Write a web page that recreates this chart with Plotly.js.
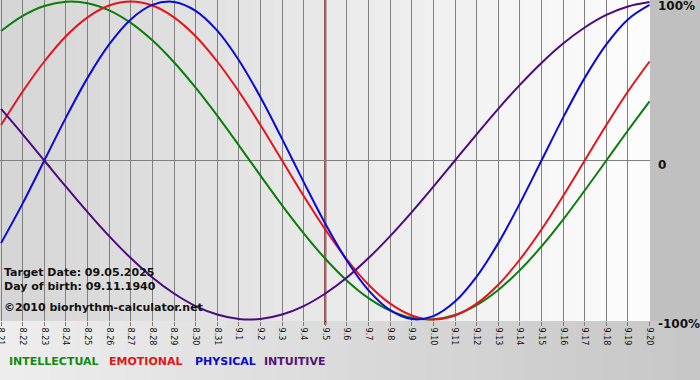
<!DOCTYPE html>
<html>
<head>
<meta charset="utf-8">
<script src="https://cdn.plot.ly/plotly-3.0.1.min.js"></script>
<style>html,body{margin:0;padding:0;background:#fff;}#chart{width:700px;height:380px;}</style>
</head>
<body>
<div id="chart"></div>
<script>
// Day labels (Aug 21 – Sep 20)
const dates = ['8.21','8.22','8.23','8.24','8.25','8.26','8.27','8.28','8.29','8.30','8.31',
  '9.1','9.2','9.3','9.4','9.5','9.6','9.7','9.8','9.9','9.10','9.11','9.12','9.13','9.14',
  '9.15','9.16','9.17','9.18','9.19','9.20'];

// Cycle values (-1 .. 1)
const intellectual = [0.815,0.910,0.972,0.999,0.990,0.945,0.866,0.756,0.618,0.458,0.282,0.095,-0.095,-0.282,-0.458,-0.618,
  -0.756,-0.866,-0.945,-0.990,-0.999,-0.972,-0.910,-0.815,-0.690,-0.541,-0.372,-0.189,0,0.189,0.372];
const emotional = [0.223,0.434,0.623,0.782,0.901,0.975,1.0,0.975,0.901,0.782,0.623,0.434,0.223,0,-0.223,-0.434,
  -0.623,-0.782,-0.901,-0.975,-1.0,-0.975,-0.901,-0.782,-0.623,-0.434,-0.223,0,0.223,0.434,0.623];
const physical = [-0.520,-0.270,0,0.270,0.520,0.731,0.888,0.979,0.998,0.942,0.817,0.631,0.398,0.136,-0.136,-0.398,
  -0.631,-0.817,-0.942,-0.998,-0.979,-0.888,-0.731,-0.520,-0.270,0,0.270,0.520,0.731,0.888,0.979];
const intuitive = [0.325,0.165,0,-0.165,-0.325,-0.476,-0.614,-0.736,-0.837,-0.916,-0.969,-0.997,-0.997,-0.969,-0.916,-0.837,
  -0.736,-0.614,-0.476,-0.325,-0.165,0,0.165,0.325,0.476,0.614,0.736,0.837,0.916,0.969,0.997];

const seriesNames = ['INTELLECTUAL','EMOTIONAL','PHYSICAL','INTUITIVE'];
const targetDay = '9.5';
const yTickVals = [1, 0, -1];
const yTickText = ['100%', '0', '-100%'];
const infoLines = ['Target Date: 09.05.2025', 'Day of birth: 09.11.1940', '\u00a92010 biorhythm-calculator.net'];

// styles
const lineColors = ['#0b7d0b', '#e4141a', '#0a0ad8', '#4b0b7e'];
const legendColors = ['#128a12', '#e51414', '#0b0bcc', '#551177'];
const seriesData = [intellectual, emotional, physical, intuitive];

const traces = seriesData.map((vals, i) => ({
  type: 'scatter', mode: 'lines', x: dates, y: vals, name: seriesNames[i],
  line: {color: lineColors[i], width: 2, shape: 'spline', smoothing: 1},
  hoverinfo: 'skip'
}));

const hex = v => { const h = Math.max(0, Math.min(255, Math.round(v))).toString(16).padStart(2, '0'); return '#' + h + h + h; };
const shapes = [];
// plot-area gradient (grey at left to white at right)
const NS = 26;
for (let i = 0; i < NS; i++) {
  const t = (i + 0.5) / NS;
  shapes.push({type: 'rect', xref: 'paper', yref: 'paper', x0: i / NS, x1: (i + 1) / NS + 0.002, y0: 0, y1: 1,
    fillcolor: hex(0xd5 + (0xfd - 0xd5) * t), line: {width: 0}, layer: 'below'});
}
// right margin
shapes.push({type: 'rect', xref: 'paper', yref: 'paper', x0: 1, x1: 1.08, y0: 0, y1: 1,
  fillcolor: '#c0c0c0', line: {width: 0}, layer: 'below'});
// bottom band gradient
const NB = 28;
for (let i = 0; i < NB; i++) {
  const t = (i + 0.5) / NB;
  shapes.push({type: 'rect', xref: 'paper', yref: 'paper', x0: i * 1.08 / NB, x1: (i + 1) * 1.08 / NB + 0.002, y0: -0.19, y1: 0,
    fillcolor: hex(0xee + (0xc6 - 0xee) * t), line: {width: 0}, layer: 'below'});
}
// target date line
shapes.push({type: 'line', xref: 'x', yref: 'paper', x0: dates.indexOf(targetDay), x1: dates.indexOf(targetDay),
  y0: -0.012, y1: 1, line: {color: '#6a1010', width: 2}, layer: 'between'});

const annotations = [];
const infoY = [0.1526, 0.106, 0.0436];
infoLines.forEach((t, i) => annotations.push({
  xref: 'paper', yref: 'paper', x: 0, y: infoY[i], xshift: 2, xanchor: 'left', yanchor: 'middle',
  text: t, showarrow: false, font: {family: 'DejaVu Sans', size: 11, color: '#111', weight: 'bold'}
}));
const legendX = [7, 107, 193, 262];
seriesNames.forEach((n, i) => annotations.push({
  xref: 'paper', yref: 'paper', x: legendX[i] / 650, y: -0.1277, xanchor: 'left', yanchor: 'middle',
  text: n, showarrow: false, font: {family: 'DejaVu Sans', size: 11, color: legendColors[i], weight: 'bold'}
}));

const layout = {
  width: 700, height: 380,
  margin: {l: 0, r: 50, t: 0, b: 59, pad: 0},
  paper_bgcolor: '#dcdcdc', plot_bgcolor: 'rgba(0,0,0,0)',
  showlegend: false,
  xaxis: {
    type: 'category', range: [-0.05, 30.02], tickmode: 'linear', tick0: 0, dtick: 1,
    showgrid: true, gridcolor: '#808080', gridwidth: 1, zeroline: false, showline: false,
    ticks: 'outside', ticklen: 4, tickcolor: '#808080', tickangle: 90,
    tickfont: {family: 'DejaVu Sans', size: 8, color: '#111'}, fixedrange: true
  },
  yaxis: {
    range: [-1.01, 1.01], side: 'right', showgrid: false,
    zeroline: true, zerolinecolor: '#808080', zerolinewidth: 1, showline: false,
    tickmode: 'array', tickvals: yTickVals, ticktext: yTickText, ticks: '',
    ticklabelstandoff: 7, ticklabelshift: 4, ticklabeloverflow: 'allow',
    tickfont: {family: 'DejaVu Sans', size: 12, color: '#111', weight: 'bold'}, fixedrange: true
  },
  shapes: shapes,
  annotations: annotations
};

Plotly.newPlot('chart', traces, layout, {displayModeBar: false, staticPlot: true});
</script>
</body>
</html>
